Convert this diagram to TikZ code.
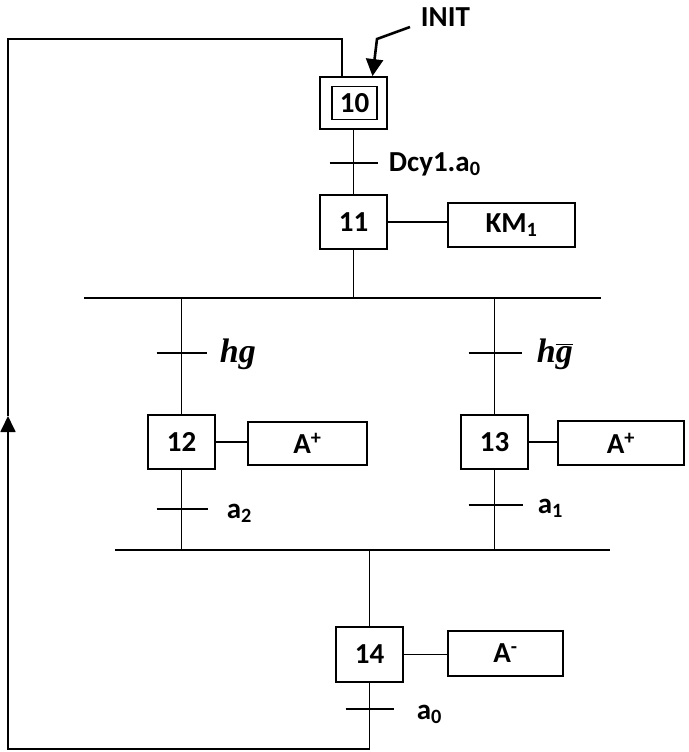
\documentclass[tikz,border=0pt]{standalone}
\usepackage{fontspec}
\setmainfont{Carlito}
\newfontfamily\mathlbl{Liberation Serif}
\usetikzlibrary{arrows.meta,calc}
\begin{document}
\begin{tikzpicture}[x=1pt,y=-1pt, line width=1.8pt,
  every node/.style={font=\fontsize{29}{32}\selectfont\bfseries},
  stepbox/.style={draw, minimum width=67pt, minimum height=54pt, inner sep=0pt},
  actbox/.style={draw, minimum height=44pt, inner sep=0pt},
  lbl/.style={anchor=base west, inner sep=0pt},
  mlbl/.style={anchor=base west, inner sep=0pt, font=\fontsize{34}{36}\selectfont\mathlbl\bfseries\itshape},
  arr/.style={-{Triangle[width=15pt,length=16pt]}}]
\useasboundingbox (0,0) rectangle (688,752);
% step 10 (initial)
\node[stepbox, minimum height=52pt] (s10) at (353.5,103) {};
\node[draw, minimum width=45pt, minimum height=33pt, inner sep=0pt] (s10i) at (354.5,103) {10};
\node[lbl] (init) at (420,27) {INIT};
\coordinate (ib) at (377,39);
\draw[arr, line width=2.6pt, -{Triangle[width=17pt,length=17pt]}] ($(init.base west)+(-10,0)$) -- (ib) -- ($(s10.north)+(19,0)$);
% step 11
\node[stepbox] (s11) at (353.5,222) {11};
\node[actbox, minimum width=127pt] (km1) at (511.5,225) {KM\textsubscript{1}};
\draw (s11.east) -- (s11.east -| km1.west);
\draw (s10) -- (s11);
\coordinate (t1) at (353.5,163);
\draw ($(t1)+(-24,0)$) -- ($(t1)+(24,0)$);
\node[lbl] (l1) at (388,171) {Dcy1.a\textsubscript{0}};
% divergence AND
\coordinate (d1l) at (84,298);
\coordinate (d1r) at (601,298);
\draw (d1l) -- (d1r);
\draw (s11) -- (s11 |- d1l);
% steps 12, 13
\node[stepbox] (s12) at (181.5,442) {12};
\node[actbox, minimum width=119pt, minimum height=43pt] (ap1) at (307.5,443.5) {A\textsuperscript{+}};
\draw (s12.east) -- (s12.east -| ap1.west);
\node[stepbox] (s13) at (494.5,442) {13};
\node[actbox, minimum width=126pt] (ap2) at (621,443) {A\textsuperscript{+}};
\draw (s13.east) -- (s13.east -| ap2.west);
\draw (s12 |- d1l) -- (s12);
\draw (s13 |- d1l) -- (s13);
\coordinate (t2) at (s12 |- 0,353);
\draw ($(t2)+(-25,0)$) -- ($(t2)+(25,0)$);
\node[mlbl] (l2) at (219,362) {hg};
\coordinate (t3) at (s13 |- 0,353);
\draw ($(t3)+(-26,0)$) -- ($(t3)+(27,0)$);
\node[mlbl] (l3) at (536,362) {h$\overline{\mbox{g}}$};
% convergence AND
\coordinate (d2l) at (115,550);
\coordinate (d2r) at (610,550);
\draw (d2l) -- (d2r);
\draw (s12) -- (s12 |- d2l);
\draw (s13) -- (s13 |- d2l);
\coordinate (t4) at (s12 |- 0,509);
\draw ($(t4)+(-25,0)$) -- ($(t4)+(26,0)$);
\node[lbl] (l4) at (226,518) {a\textsubscript{2}};
\coordinate (t5) at (s13 |- 0,505);
\draw ($(t5)+(-26,0)$) -- ($(t5)+(28,0)$);
\node[lbl] (l5) at (537,513) {a\textsubscript{1}};
% step 14
\node[stepbox, minimum height=55pt] (s14) at (369.5,654.5) {14};
\node[actbox, minimum width=115pt, minimum height=45pt] (am) at (505.5,653.5) {A\textsuperscript{-}};
\draw (s14.east) -- (s14.east -| am.west);
\draw (s14 |- d2l) -- (s14);
\coordinate (t6) at (s14 |- 0,709);
\draw ($(t6)+(-24,0)$) -- ($(t6)+(24,0)$);
\node[lbl] (l6) at (416,719) {a\textsubscript{0}};
% loop back
\coordinate (lb) at (8,749);
\coordinate (lm) at (8,416);
\coordinate (lt) at (8,39);
\coordinate (ent) at ($(s10.north)+(-11.5,0)$);
\draw[arr] (s14.south) |- (lb) -- (lm);
\draw (lm) -- (lt) -| (ent);
\end{tikzpicture}
\end{document}
